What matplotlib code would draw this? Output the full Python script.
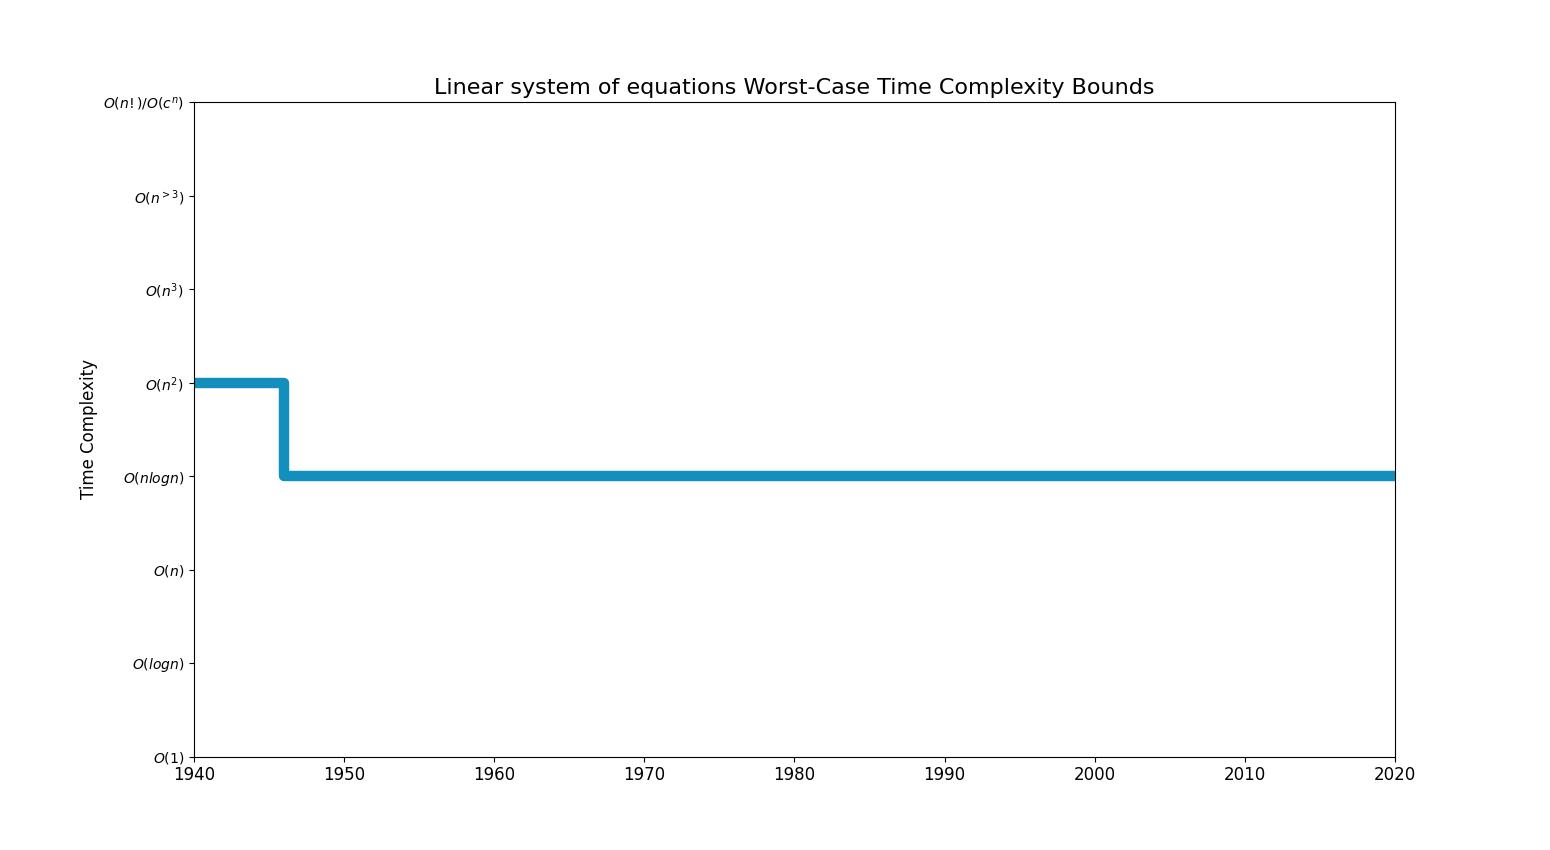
import matplotlib.pyplot as plt

# years where the best known bound changed, and the complexity class index
years = [1940, 1946, 2020]
complexity = [4, 3, 3]

class_labels = [r'$O(1)$', r'$O(logn)$', r'$O(n)$', r'$O(nlogn)$',
                r'$O(n^2)$', r'$O(n^3)$', r'$O(n^{>3})$', r'$O(n!)/O(c^n)$']

fig, ax = plt.subplots(figsize=(15.5, 8.5), dpi=100)
ax.step(years, complexity, where='post',
        color='#138fbd', linewidth=7.5, solid_joinstyle='round',
        solid_capstyle='round')

ax.set_xlim(1940, 2020)
ax.set_ylim(0, len(class_labels) - 1)
ax.set_yticks(range(len(class_labels)))
ax.set_yticklabels(class_labels, fontsize=10)
ax.tick_params(axis='x', labelsize=12)
ax.set_ylabel('Time Complexity', fontsize=12)
ax.set_title('Linear system of equations Worst-Case Time Complexity Bounds', fontsize=16)

fig.savefig('out.png')
